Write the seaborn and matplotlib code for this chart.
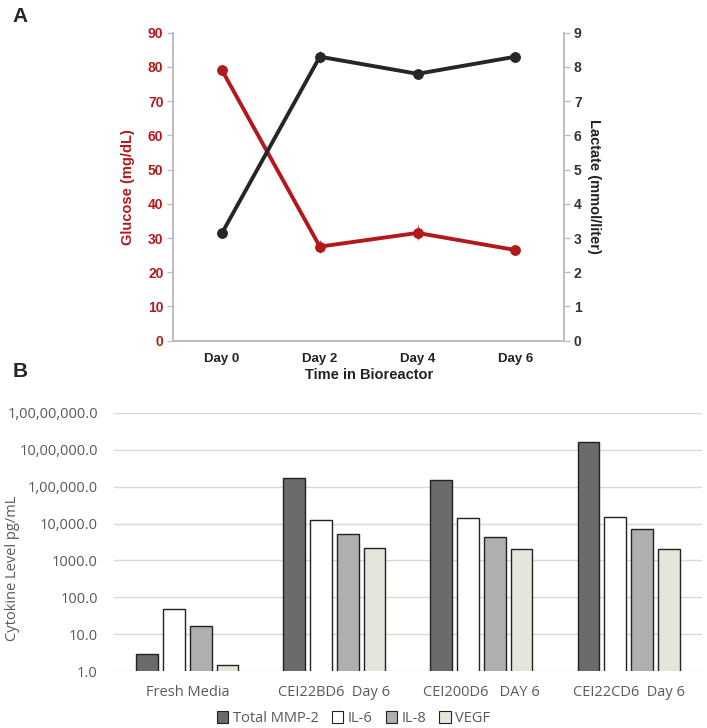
import pandas as pd
import matplotlib.pyplot as plt
import seaborn as sns
from matplotlib.patches import Patch

# panel A data
days = ["Day 0", "Day 2", "Day 4", "Day 6"]
glucose = [79, 27.5, 31.5, 26.5]
glucose_err = [0.8, 2.0, 2.2, 0.8]
lactate = [3.15, 8.3, 7.8, 8.3]
lactate_err = [0.05, 0.18, 0.06, 0.05]

# panel B data
groups = ["Fresh Media", "CEI22BD6  Day 6", "CEI200D6   DAY 6", "CEI22CD6  Day 6"]
cytokines = ["Total MMP-2", "IL-6", "IL-8", "VEGF"]
mmp2 = [3.0, 173000, 150000, 1580000]
il6 = [49, 12600, 14000, 14700]
il8 = [16.6, 5050, 4200, 7200]
vegf = [1.5, 2200, 2000, 2100]
ytick_vals = [1, 10, 100, 1000, 1e4, 1e5, 1e6, 1e7]
ytick_labels = ["1.0", "10.0", "100.0", "1000.0", "10,000.0", "1,00,000.0",
                "10,00,000.0", "1,00,00,000.0"]

red = "#b3191c"
dark = "#262626"
spine_col = "#bdbdbd"
bar_cols = ["#6b6b6b", "#ffffff", "#afafaf", "#e6e6da"]

sns.set_theme(style="white")
plt.rcParams['font.family'] = ['Liberation Sans', 'DejaVu Sans']

fig = plt.figure(figsize=(7.07, 7.28), dpi=100)

# ---------------- panel A ----------------
ax1 = fig.add_axes([0.245, 0.532, 0.553, 0.423])
ax2 = ax1.twinx()
dfa = pd.DataFrame({"day": days, "glucose": glucose, "lactate": lactate})

sns.lineplot(data=dfa, x="day", y="glucose", ax=ax1, color=red, lw=2.8,
             marker="o", markersize=7, markeredgecolor=red, sort=False)
ax1.errorbar(range(len(days)), glucose, yerr=glucose_err, fmt="none",
             ecolor=red, elinewidth=0.8, alpha=0.7)
sns.lineplot(data=dfa, x="day", y="lactate", ax=ax2, color=dark, lw=2.8,
             marker="o", markersize=7, markeredgecolor=dark, sort=False)
ax2.errorbar(range(len(days)), lactate, yerr=lactate_err, fmt="none",
             ecolor=dark, elinewidth=0.8, alpha=0.7)

ax1.set_xlim(-0.5, 3.5)
ax1.set_ylim(0, 90)
ax2.set_ylim(0, 9)
ax1.set_yticks(range(0, 91, 10))
ax2.set_yticks(range(0, 10))

for a in (ax1, ax2):
    for s in a.spines.values():
        s.set_color(spine_col)
        s.set_linewidth(1.2)
    a.spines["top"].set_visible(False)
    a.grid(False)

ax1.tick_params(axis="y", colors=red, length=4, width=1, color=spine_col,
                left=True, labelsize=10, pad=3)
ax2.tick_params(axis="y", colors="#333333", length=4, width=1, color=spine_col,
                right=True, labelsize=10, pad=3)
ax1.tick_params(axis="x", length=0, labelsize=9.5, pad=9, labelcolor="#222222")
for lab in ax1.get_yticklabels():
    lab.set_color(red)
    lab.set_fontweight("bold")
for lab in ax2.get_yticklabels() + ax1.get_xticklabels():
    lab.set_fontweight("bold")

ax1.set_xlabel("Time in Bioreactor", fontsize=10.5, fontweight="bold",
               color="#222222", labelpad=2)
ax1.set_ylabel("Glucose (mg/dL)", fontsize=10.5, fontweight="bold",
               color=red, labelpad=9)
ax2.set_ylabel("Lactate (mmol/liter)", fontsize=10.5, fontweight="bold",
               color="#222222", rotation=270, labelpad=14)

# ---------------- panel B ----------------
ax3 = fig.add_axes([0.161, 0.078, 0.832, 0.355])
ax3.set_yscale("log")
dfb = pd.DataFrame({"group": groups * 4,
                    "cytokine": [c for c in cytokines for _ in groups],
                    "level": mmp2 + il6 + il8 + vegf})
sns.barplot(data=dfb, x="group", y="level", hue="cytokine", ax=ax3,
            palette=bar_cols, width=0.73, gap=0.2, edgecolor="#222222",
            linewidth=1.0, legend=False)
ax3.set_ylim(1, 1e7)
ax3.set_xlim(-0.5, 3.5)
ax3.set_yticks(ytick_vals)
ax3.set_yticklabels(ytick_labels)
ax3.minorticks_off()
ax3.yaxis.grid(True, color="#d9d9d9", lw=1)
ax3.set_axisbelow(True)
for s in ax3.spines.values():
    s.set_visible(False)
ax3.tick_params(axis="both", length=0, labelsize=10.5, labelcolor="#595959")
ax3.tick_params(axis="y", pad=11.5)
ax3.tick_params(axis="x", pad=10)
ax3.set_xlabel("")
ax3.set_ylabel("Cytokine Level pg/mL", fontsize=10.5, color="#595959")
ax3.yaxis.set_label_coords(-0.16, 0.40)
for lab in ax3.get_xticklabels() + ax3.get_yticklabels():
    lab.set_fontfamily(["Open Sans", "DejaVu Sans"])
ax3.yaxis.label.set_fontfamily(["Open Sans", "DejaVu Sans"])

handles = [Patch(facecolor=c, edgecolor="#222222", lw=0.8) for c in bar_cols]
leg = fig.legend(handles, cytokines, loc="center", bbox_to_anchor=(0.5, 0.013),
                 ncol=4, frameon=False, handlelength=0.8, handleheight=0.8,
                 handletextpad=0.3, columnspacing=0.9,
                 prop={"family": ["Open Sans", "DejaVu Sans"], "size": 10.5})
for t in leg.get_texts():
    t.set_color("#595959")

fig.text(0.018, 0.978, "A", fontsize=15, fontweight="bold", va="center")
fig.text(0.018, 0.49, "B", fontsize=15, fontweight="bold", va="center")

fig.savefig("out.png", dpi=100)
